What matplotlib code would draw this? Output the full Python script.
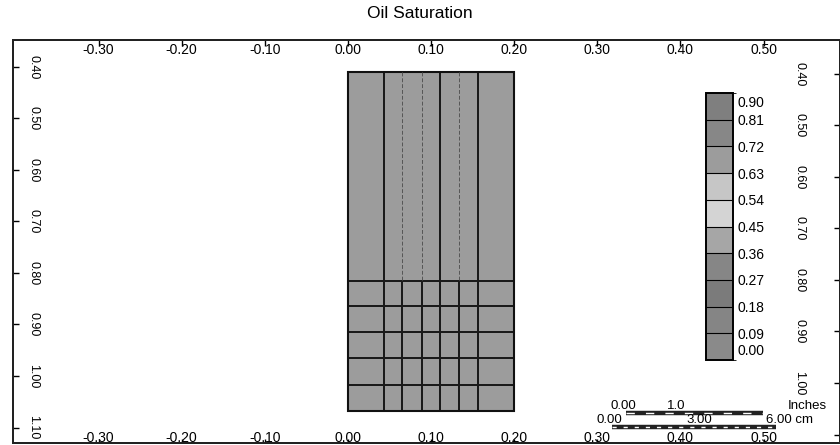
import matplotlib.pyplot as plt
import numpy as np
from matplotlib.colors import ListedColormap, BoundaryNorm
from matplotlib.lines import Line2D

plt.rcParams['font.family'] = ['Liberation Sans', 'DejaVu Sans']

TITLE = 'Oil Saturation'
W, H = 840, 445

# axis ticks
x_ticks = [-0.30, -0.20, -0.10, 0.00, 0.10, 0.20, 0.30, 0.40, 0.50]
y_ticks = [0.40, 0.50, 0.60, 0.70, 0.80, 0.90, 1.00, 1.10]

# colour scale (10 bands, scanned grey levels)
levels = [0.00, 0.09, 0.18, 0.27, 0.36, 0.45, 0.54, 0.63, 0.72, 0.81, 0.90]
band_grays = ['#8a8a8a', '#858585', '#7b7b7b', '#868686', '#a6a6a6',
              '#d4d4d4', '#c6c6c6', '#9c9c9c', '#878787', '#7f7f7f']

# coarse upper block of the grid
x_edges_upper = [0.0, 0.043, 0.111, 0.157, 0.2]
y_edges_upper = [0.41, 0.815]
sat_upper = [[0.68, 0.68, 0.68, 0.68]]
x_sub_upper = [0.065, 0.089, 0.134]   # faint sub-division lines

# refined lower block
x_edges_lower = [0.0, 0.043, 0.065, 0.089, 0.111, 0.134, 0.157, 0.2]
y_edges_lower = [0.815, 0.865, 0.915, 0.966, 1.017, 1.068]
sat_lower = [
    [0.67, 0.67, 0.67, 0.67, 0.67, 0.67, 0.67],
    [0.67, 0.67, 0.66, 0.66, 0.67, 0.67, 0.67],
    [0.67, 0.67, 0.66, 0.66, 0.67, 0.67, 0.67],
    [0.67, 0.67, 0.67, 0.66, 0.67, 0.67, 0.67],
    [0.67, 0.67, 0.67, 0.67, 0.67, 0.67, 0.67],
]


def px(x, y):
    return x / W, 1 - y / H


cmap = ListedColormap(band_grays)
norm = BoundaryNorm(levels, cmap.N)

fig = plt.figure(figsize=(W / 100, H / 100), dpi=100)
ax = fig.add_axes([13 / W, 2 / H, 827 / W, 403 / H])

ax.pcolormesh(x_edges_upper, y_edges_upper, np.array(sat_upper), cmap=cmap,
              norm=norm, edgecolors='#1a1a1a', linewidth=1.1)
ax.vlines(x_sub_upper, y_edges_upper[0], y_edges_upper[1], colors='#555555',
          linewidth=0.7, linestyles=(0, (4, 2)))
mesh = ax.pcolormesh(x_edges_lower, y_edges_lower, np.array(sat_lower), cmap=cmap,
                     norm=norm, edgecolors='#1a1a1a', linewidth=1.1)
ax.add_patch(plt.Rectangle((x_edges_lower[0], y_edges_upper[0]),
                           x_edges_lower[-1] - x_edges_lower[0],
                           y_edges_lower[-1] - y_edges_upper[0],
                           fill=False, edgecolor='#111111', linewidth=1.5))

ax.set_xlim(-0.403, 0.592)
ax.set_ylim(1.130, 0.348)
ax.set_xticks(x_ticks)
ax.set_xticklabels([f'{v:.2f}' for v in x_ticks])
ax.set_yticks(y_ticks)
ax.set_yticklabels([f'{v:.2f}' for v in y_ticks], rotation=270, va='center')

# labels sit inside the frame
ax.tick_params(axis='x', direction='in', length=3, width=1, labelsize=10,
               top=False, pad=-9)
ax.tick_params(axis='y', direction='in', length=4, width=1, labelsize=9,
               right=False, pad=-19)

top = ax.secondary_xaxis('top')
top.set_xticks(x_ticks)
top.set_xticklabels([f'{v:.2f}' for v in x_ticks])
top.tick_params(direction='in', length=4, width=1, labelsize=10, pad=-12.5)

# right-hand axis (scan is slightly skewed, so it sits a few pixels higher)
ax2 = ax.twinx()
ax2.set_ylim(1.130 - 0.0136, 0.348 - 0.0136)
ax2.set_yticks(y_ticks)
ax2.set_yticklabels([f'{v:.2f}' if v < 1.05 else '' for v in y_ticks],
                    rotation=270, va='center')
ax2.tick_params(axis='y', direction='in', length=4, width=1, labelsize=9,
                pad=-33.5)

for a in (ax, ax2, top):
    for sp in a.spines.values():
        sp.set_linewidth(1.4)
        sp.set_color('#222222')

fig.text(0.5, 1 - 14 / H, TITLE, ha='center', va='center', fontsize=12.5)

# colour bar
cax = fig.add_axes([706 / W, 1 - 360 / H, 27 / W, 267 / H])
cb = fig.colorbar(mesh, cax=cax, drawedges=True)
cb.outline.set_linewidth(1.4)
cb.dividers.set_linewidth(0.8)
cb_ticks = [0.035] + levels[1:-1] + [0.873]
cb.set_ticks(cb_ticks)
cb.set_ticklabels([f'{v:.2f}' for v in levels])
cax.tick_params(length=0, pad=3, labelsize=10)

# scale bars
fig.text(*px(623, 406), '0.00', ha='center', va='center', fontsize=9.5)
fig.text(*px(676, 406), '1.0', ha='center', va='center', fontsize=9.5)
fig.text(*px(807, 406), 'Inches', ha='center', va='center', fontsize=9.5)
fig.text(*px(609, 420), '0.00', ha='center', va='center', fontsize=9.5)
fig.text(*px(699, 420), '3.00', ha='center', va='center', fontsize=9.5)
fig.text(*px(790, 420), '6.00 cm', ha='center', va='center', fontsize=9.5)
for (x0, x1, y) in [(626, 763, 413), (612, 776, 427)]:
    xa, ya = px(x0, y)
    xb, _ = px(x1, y)
    fig.add_artist(Line2D([xa, xb], [ya, ya], transform=fig.transFigure,
                          color='#222222', linewidth=3.2, solid_capstyle='butt'))
    fig.add_artist(Line2D([xa, xb], [ya, ya], transform=fig.transFigure,
                          color='white', linewidth=1.0,
                          linestyle=(0, (6, 8)) if y < 420 else (0, (3, 5))))

fig.savefig('out.png', dpi=100)
